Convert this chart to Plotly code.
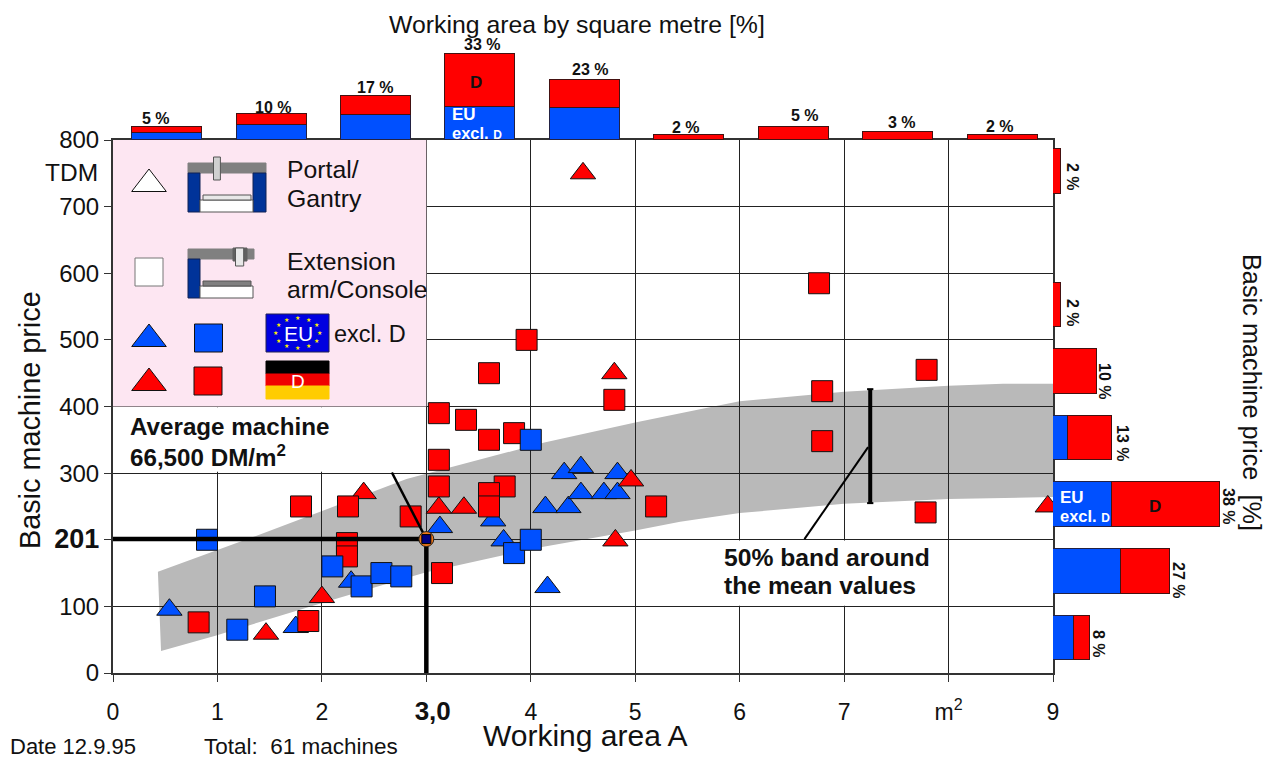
import math
import plotly.graph_objects as go

W, H = 1272, 759
L, R, T, B = 113, 1053, 140, 673

# ---- data ----
red_sq_x = [3.12, 3.38, 3.6, 3.84, 3.12, 3.12, 3.75, 3.6, 3.6, 1.8, 2.25, 2.85, 2.24, 2.24, 3.15, 0.82, 1.87, 5.2, 4.8, 3.6, 3.96, 6.76, 6.79, 6.79, 7.79, 7.78]
red_sq_y = [390, 380, 350, 360, 320, 280, 280, 270, 250, 250, 250, 235, 195, 175, 150, 76, 78, 250, 410, 450, 500, 585, 423, 348, 455, 241]
blue_sq_x = [0.9, 1.455, 1.19, 2.1, 2.38, 2.57, 2.76, 3.84, 4.0, 4.0]
blue_sq_y = [200, 115, 65, 160, 130, 150, 145, 180, 200, 350]
red_tri_x = [2.4, 3.12, 3.36, 2.0, 1.465, 4.96, 4.81, 4.5, 4.8, 8.95]
red_tri_y = [270, 248, 248, 114, 59, 289, 199, 750, 450, 250]
blue_tri_x = [0.54, 1.75, 2.28, 3.13, 3.64, 3.74, 4.16, 4.14, 4.36, 4.32, 4.48, 4.48, 4.7, 4.83, 4.83]
blue_tri_y = [95, 69, 137, 219, 229, 199, 129, 249, 249, 300, 309, 270, 270, 270, 300]

band_upper_x = [0.43, 1.34, 2.81, 4.13, 5.0, 5.62, 6.0, 7.0, 8.0, 8.52, 9.0]
band_upper_y = [152, 204, 291, 346, 376, 396, 408, 422, 431, 434, 434]
band_lower_x = [0.46, 0.98, 2.08, 2.99, 4.0, 5.0, 5.43, 6.0, 7.0, 8.0, 9.0]
band_lower_y = [33, 56, 109, 151, 186, 214, 227, 240, 254, 261, 264]

top_centers = [0.5, 1.5, 2.5, 3.5, 4.5, 5.5, 6.5, 7.5, 8.5]
top_eu = [2.7, 5.8, 9.6, 12.7, 12.3, None, None, None, None]
top_de = [2.3, 4.2, 7.4, 20.3, 10.7, 2, 5, 3, 2]
top_labels = ["5 %", "10 %", "17 %", "33 %", "23 %", "2 %", "5 %", "3 %", "2 %"]

right_centers = [50, 150, 250, 350, 450, 550, 750]
right_eu = [4.8, 15.5, 13.3, 3.4, None, None, None]
right_de = [3.6, 11.1, 24.7, 10, 10, 1.8, 1.8]
right_labels = ["8 %", "27 %", "38 %", "13 %", "10 %", "2 %", "2 %"]

x_ticks = [0, 1, 2, 3, 4, 5, 6, 7, 8, 9]
x_ticktext = ["0", "1", "2", "&nbsp;&nbsp;<b style='font-size:26px'>3,0</b>", "4", "5", "6", "7", "m<sup>2</sup>", "9"]
y_ticks = [0, 100, 200, 300, 400, 500, 600, 700, 800]
y_ticktext = ["0", "100", "<b style='font-size:27px'>201</b>", "300", "400", "500", "600", "700", "800"]

avg_x, avg_y = 3.0, 201

RED, BLUE = "#ff0000", "#0050ff"
NAVY, GREY = "#003399", "#808080"
FONT = "Liberation Sans"
INK = "#111111"


def px(x):
    return x / W


def py(y):
    return 1 - y / H


def dx(x):
    return (x - L) / (R - L) * 9


def dy(y):
    return (B - y) / (B - T) * 800


fig = go.Figure()

# ---- bars ----
fig.add_bar(x=top_centers, y=top_eu, width=0.67, marker=dict(color=BLUE, line=dict(color="#222244", width=1)), xaxis="x2", yaxis="y2", name="EU excl. D")
fig.add_bar(x=top_centers, y=top_de, width=0.67, marker=dict(color=RED, line=dict(color="#441111", width=1)), xaxis="x2", yaxis="y2", name="D")
fig.add_bar(y=right_centers, x=right_eu, width=67, orientation="h", marker=dict(color=BLUE, line=dict(color="#222244", width=1)), xaxis="x3", yaxis="y3", name="EU excl. D")
fig.add_bar(y=right_centers, x=right_de, width=67, orientation="h", marker=dict(color=RED, line=dict(color="#441111", width=1)), xaxis="x3", yaxis="y3", name="D")


def scatter(x, y, sym, color, size, line="#111111"):
    fig.add_scatter(x=x, y=y, mode="markers", marker=dict(symbol=sym, color=color, size=size, line=dict(color=line, width=1)))


scatter(blue_tri_x, blue_tri_y, "triangle-up", BLUE, 22)
scatter(red_tri_x, red_tri_y, "triangle-up", RED, 22)
scatter(red_sq_x, red_sq_y, "square", RED, 21)
scatter(blue_sq_x, blue_sq_y, "square", BLUE, 21)

# legend samples
scatter([dx(149)], [dy(184)], "triangle-up", "#ffffff", 30)
scatter([dx(149)], [dy(272)], "square", "#ffffff", 28, "#777777")
scatter([dx(149)], [dy(339)], "triangle-up", BLUE, 30)
scatter([dx(208.5)], [dy(338)], "square", BLUE, 28)
scatter([dx(149)], [dy(383)], "triangle-up", RED, 30)
scatter([dx(208)], [dy(381)], "square", RED, 28)


def line(xs, ys, w):
    fig.add_scatter(x=xs, y=ys, mode="lines", line=dict(color="#000000", width=w), cliponaxis=False)


# average cross, leaders, bracket
line([dx(105), avg_x], [avg_y, avg_y], 4.5)
line([avg_x, avg_x], [avg_y, dy(680)], 4.5)
line([2.67, avg_x], [301, avg_y], 2.5)
line([7.25, 7.25], [426, 255], 4)
line([7.22, 7.28], [426, 426], 2)
line([7.22, 7.28], [255, 255], 2)
line([7.23, 6.62], [339, 201], 2)
fig.add_scatter(x=[avg_x], y=[avg_y], mode="markers", marker=dict(symbol="circle", color="#f07818", size=15, line=dict(color="#222222", width=1)))
fig.add_scatter(x=[avg_x], y=[avg_y], mode="markers", marker=dict(symbol="square", color="#000080", size=9, line=dict(color="#000000", width=1)))

# ---- shapes ----
path = "M " + " L ".join(f"{a},{b}" for a, b in zip(band_upper_x, band_upper_y))
path += " L " + " L ".join(f"{a},{b}" for a, b in zip(band_lower_x[::-1], band_lower_y[::-1])) + " Z"
shapes = [
    dict(type="path", path=path, xref="x", yref="y", fillcolor="#b9b9b9", line=dict(width=0), layer="below"),
    dict(type="rect", xref="x", yref="y", x0=0, x1=3, y0=400, y1=800, fillcolor="#fde6f2", line=dict(width=0), layer="between"),
    dict(type="rect", xref="x", yref="y", x0=0.01, x1=2.99, y0=302, y1=399, fillcolor="#ffffff", line=dict(width=0), layer="between"),
    dict(type="rect", xref="x", yref="y", x0=dx(700), x1=dx(947), y0=101, y1=199, fillcolor="#ffffff", line=dict(width=0), layer="between"),
]


def box(x0, y0, x1, y1, fill, edge=None):
    shapes.append(dict(type="rect", xref="paper", yref="paper", x0=px(x0), x1=px(x1), y0=py(y0), y1=py(y1), fillcolor=fill, line=dict(color=edge or fill, width=1), layer="above"))


# portal pictogram
box(188, 163, 266, 173, GREY)
box(213.5, 157, 220.4, 180, "#d0d0d0", "#555555")
box(188, 173, 200, 212, NAVY, "#112255")
box(253, 173, 266, 212, NAVY, "#112255")
box(200, 200, 253, 212, "#ffffff", "#555555")
box(203, 195, 251, 200, "#e8e8e8", "#555555")
# console pictogram
box(188, 249, 254, 259, GREY)
box(233, 248, 247, 261, "#606060")
box(235.5, 248, 243.7, 266, "#e8e8e8", "#555555")
box(188, 259, 200, 298, NAVY, "#112255")
box(200, 286, 253, 298, "#ffffff", "#555555")
box(203, 281, 251, 286, "#808080", "#555555")
# flags
box(266, 314, 329, 352, "#0000e0", "#222255")
box(266, 361, 329, 374, "#000000")
box(266, 374, 329, 386, "#f00000")
box(266, 386, 329, 399, "#ffcc00")

annotations = []


def text(x, y, s, size, bold=False, color=INK, anchor="center", angle=0):
    if anchor == "left":
        x -= 2
    annotations.append(dict(xref="paper", yref="paper", x=px(x), y=py(y), text=f"<b>{s}</b>" if bold else s, showarrow=False,
                            xanchor=anchor, yanchor="middle", textangle=angle, font=dict(family=FONT, size=size, color=color)))


for i in range(12):
    a = i * math.pi / 6
    text(297.5 + 22 * math.sin(a), 333 + 15.5 * math.cos(a), "★", 6, color="#ffee00")

text(577, 24, "Working area by square metre [%]", 24.8)
text(71, 173, "TDM", 24.5)
text(585, 735, "Working area A", 30)
text(30, 420, "Basic machine price", 28.8, angle=-90)
text(1252, 392, "Basic machine price  [%]", 25.3, angle=90)
text(10, 746, "Date 12.9.95", 22, anchor="left")
text(204, 746, "Total:  61 machines", 22.5, anchor="left")
text(130, 426, "Average machine", 24.2, True, anchor="left")
text(130, 456, "66,500 DM/m<sup>2</sup>", 24.2, True, anchor="left")
text(724, 557, "50% band around", 24.7, True, anchor="left")
text(724, 585, "the mean values", 24.7, True, anchor="left")
text(287, 170, "Portal/", 24.8, anchor="left")
text(287, 198, "Gantry", 24.8, anchor="left")
text(287, 261, "Extension", 24.8, anchor="left")
text(287, 289, "arm/Console", 24.8, anchor="left")
text(334, 334, "excl. D", 23.5, anchor="left")
text(298, 333, "EU", 21, color="#ffffff")
text(298, 381, "D", 19, color="#ffffff")
text(476, 83, "D", 17, True, "#111111")
text(452, 115, "EU", 17, True, "#ffffff", "left")
text(452, 133, "excl. <span style='font-size:12px'>D</span>", 16.5, True, "#ffffff", "left")
text(1060, 497, "EU", 17, True, "#ffffff", "left")
text(1060, 516, "excl. <span style='font-size:12px'>D</span>", 16.5, True, "#ffffff", "left")
text(1155, 506, "D", 17, True, "#111111")

top_lab_px = [(156, 118), (273, 107), (375, 88), (482, 45), (590, 69), (686, 127), (805, 116), (902, 122), (1000, 126)]
for (x, y), s in zip(top_lab_px, top_labels):
    text(x, y, s, 16, True)
right_lab_px = [(1099, 644), (1179, 580), (1229, 506), (1123, 443), (1105, 381), (1073, 313), (1073, 177)]
for (x, y), s in zip(right_lab_px, right_labels):
    text(x, y, s, 16, True, angle=90)

axis_common = dict(showline=True, linecolor="#333333", linewidth=2, mirror=True, zeroline=False, showgrid=True, gridcolor="#222222", gridwidth=1,
                   ticks="outside", ticklen=7, tickcolor="#333333")

fig.update_layout(
    width=W, height=H, margin=dict(l=0, r=0, t=0, b=0, pad=0, autoexpand=False), autosize=False, paper_bgcolor="#ffffff", plot_bgcolor="#ffffff",
    showlegend=False, barmode="stack", bargap=0, shapes=shapes, annotations=annotations,
    xaxis=dict(domain=[L / W, R / W], range=[0, 9], tickmode="array", tickvals=x_ticks, ticktext=x_ticktext, ticklabelstandoff=10, tickfont=dict(family=FONT, color=INK, size=23), **axis_common),
    yaxis=dict(domain=[1 - B / H, 1 - T / H], range=[0, 800], tickmode="array", tickvals=y_ticks, ticktext=y_ticktext, tickfont=dict(family=FONT, color=INK, size=24), **axis_common),
    xaxis2=dict(domain=[L / W, R / W], range=[-0.018, 8.982], visible=False, anchor="y2"),
    yaxis2=dict(domain=[1 - T / H, 1], range=[0, T / 2.6], visible=False, anchor="x2"),
    xaxis3=dict(domain=[R / W, 1], range=[0, (W - R) / 4.4], visible=False, anchor="y3"),
    yaxis3=dict(domain=[1 - B / H, 1 - T / H], range=[-2.5, 797.5], visible=False, anchor="x3"),
)

fig.write_html("out.html", config=dict(displayModeBar=False), post_script="document.body.style.margin='0';")
